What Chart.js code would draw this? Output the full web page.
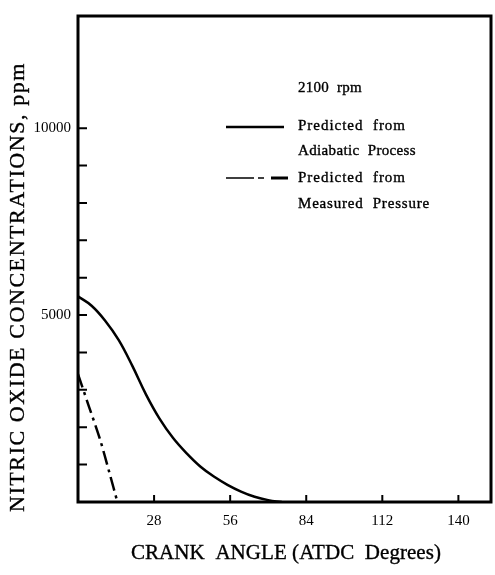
<!DOCTYPE html>
<html>
<head>
<meta charset="utf-8">
<script src="https://cdn.jsdelivr.net/npm/chart.js@4"></script>
<style>
  html, body { margin: 0; padding: 0; background: #fff; }
  canvas { display: block; }
</style>
</head>
<body>
<canvas id="noChart" width="495" height="575"></canvas>
<script>
// values
const adiabaticAngle = [0, 5, 10, 15, 20, 25, 30, 35, 40, 45, 50, 55, 60, 65, 70, 75];
const adiabaticNO = [5500, 5250, 4850, 4330, 3640, 2880, 2230, 1710, 1300, 950, 680, 460, 280, 140, 50, 0];
const measuredAngle = [0, 4, 8, 11.5, 14.5];
const measuredNO = [3420, 2560, 1700, 800, 0];
const xTicks = [28, 56, 84, 112, 140];
const yTicks = [1000, 2000, 3000, 4000, 5000, 6000, 7000, 8000, 9000, 10000];
const yLabels = [5000, 10000];

const serif = '"Liberation Serif", "DejaVu Serif", serif';
const ink = '#000';

function toPoints(xs, ys) {
  return xs.map((x, i) => ({ x: x, y: ys[i] }));
}

// draws text fitted to a given width through letter spacing
function spacedText(ctx, text, cx, cy, width, font) {
  ctx.font = font;
  ctx.letterSpacing = '0px';
  const w = ctx.measureText(text).width;
  const sp = (width - w) / text.length;
  ctx.letterSpacing = sp + 'px';
  ctx.textAlign = 'left';
  ctx.textBaseline = 'middle';
  ctx.lineWidth = 0.35;
  ctx.fillText(text, cx - width / 2, cy);
  ctx.strokeText(text, cx - width / 2, cy);
  ctx.letterSpacing = '0px';
}

const decorPlugin = {
  id: 'decor',
  beforeDraw(chart) {
    const ctx = chart.ctx;
    ctx.save();
    ctx.fillStyle = '#fff';
    ctx.fillRect(0, 0, chart.width, chart.height);
    ctx.restore();
  },
  afterDraw(chart) {
    const ctx = chart.ctx;
    const a = chart.chartArea;
    const xs = chart.scales.x, ys = chart.scales.y;
    ctx.save();
    ctx.strokeStyle = ink;
    ctx.fillStyle = ink;

    // frame
    ctx.lineWidth = 3;
    ctx.strokeRect(a.left, a.top, a.right - a.left, a.bottom - a.top);

    // inward ticks
    ctx.lineWidth = 2;
    ctx.beginPath();
    yTicks.forEach(v => {
      const y = ys.getPixelForValue(v);
      ctx.moveTo(a.left, y);
      ctx.lineTo(a.left + 9, y);
    });
    xTicks.forEach(v => {
      const x = xs.getPixelForValue(v);
      ctx.moveTo(x, a.bottom);
      ctx.lineTo(x, a.bottom - 7);
    });
    ctx.stroke();

    // axis titles
    spacedText(ctx, 'CRANK  ANGLE (ATDC  Degrees)', 286, 553, 310, '21px ' + serif);
    ctx.save();
    ctx.translate(18, 287);
    ctx.rotate(-Math.PI / 2);
    spacedText(ctx, 'NITRIC OXIDE CONCENTRATIONS, ppm', 0, 0, 450, '22px ' + serif);
    ctx.restore();

    // legend
    const lf = '15px ' + serif;
    spacedText(ctx, '2100  rpm', 330, 88, 64, lf);
    spacedText(ctx, 'Predicted  from', 352, 126, 108, lf);
    spacedText(ctx, 'Adiabatic  Process', 357, 151, 118, lf);
    spacedText(ctx, 'Predicted  from', 352, 178, 108, lf);
    spacedText(ctx, 'Measured  Pressure', 364, 204, 132, lf);

    ctx.lineCap = 'butt';
    ctx.lineWidth = 2.5;
    ctx.beginPath();
    ctx.moveTo(226, 127);
    ctx.lineTo(284, 127);
    ctx.stroke();

    ctx.lineWidth = 1.5;
    ctx.beginPath();
    ctx.moveTo(226, 178);
    ctx.lineTo(254, 178);
    ctx.moveTo(258, 178);
    ctx.lineTo(264, 178);
    ctx.stroke();
    ctx.lineWidth = 3;
    ctx.beginPath();
    ctx.moveTo(271, 178);
    ctx.lineTo(288, 178);
    ctx.stroke();

    ctx.restore();
  }
};

new Chart(document.getElementById('noChart').getContext('2d'), {
  type: 'line',
  data: {
    datasets: [
      {
        label: 'Predicted from Adiabatic Process',
        data: toPoints(adiabaticAngle, adiabaticNO),
        borderColor: ink,
        borderWidth: 2.5,
        pointRadius: 0,
        tension: 0.4,
        fill: false
      },
      {
        label: 'Predicted from Measured Pressure',
        data: toPoints(measuredAngle, measuredNO),
        borderColor: ink,
        borderWidth: 2.5,
        borderDash: [14, 5, 3, 5],
        pointRadius: 0,
        tension: 0.3,
        fill: false
      }
    ]
  },
  options: {
    responsive: false,
    animation: false,
    devicePixelRatio: 1,
    layout: { padding: { top: 11, right: 4, left: 0, bottom: 0 } },
    plugins: {
      legend: { display: false },
      tooltip: { enabled: false }
    },
    scales: {
      x: {
        type: 'linear',
        min: 0,
        max: 152,
        afterBuildTicks: s => { s.ticks = xTicks.map(v => ({ value: v })); },
        afterFit: s => { s.height = 73; },
        grid: { display: false, drawTicks: false },
        border: { display: false },
        ticks: {
          autoSkip: false,
          maxRotation: 0,
          padding: 10,
          color: ink,
          font: { family: serif, size: 15 }
        }
      },
      y: {
        type: 'linear',
        min: 0,
        max: 13000,
        afterBuildTicks: s => { s.ticks = yTicks.map(v => ({ value: v })); },
        afterFit: s => { s.width = 78; },
        grid: { display: false, drawTicks: false },
        border: { display: false },
        ticks: {
          autoSkip: false,
          padding: 7,
          color: ink,
          font: { family: serif, size: 15 },
          callback: v => yLabels.includes(v) ? String(v) : ''
        }
      }
    }
  },
  plugins: [decorPlugin]
});
</script>
</body>
</html>
